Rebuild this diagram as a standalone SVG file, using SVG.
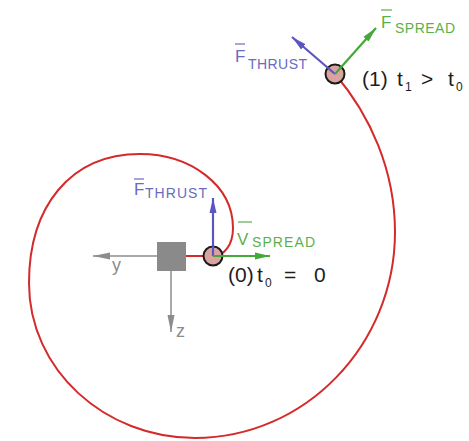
<svg xmlns="http://www.w3.org/2000/svg" width="469" height="441" viewBox="0 0 469 441">
<style>
.curve{fill:none;stroke:#d42a2a;stroke-width:2}
.node{fill:#d9a3a0;stroke:#1a1a1a;stroke-width:2}
.blue{stroke:#5a55c0;stroke-width:2.2;fill:none}
.green{stroke:#45a83a;stroke-width:2.2;fill:none}
.gray{stroke:#8c8c8c;stroke-width:1.5;fill:none}
text{font-family:"Liberation Sans",Arial,sans-serif}
.tb{fill:#6a6abf}
.tg{fill:#5cb04a}
.tgr{fill:#8c8c8c;font-size:18px}
.tk{fill:#1e1e1e;font-size:21px}
.tk.s{font-size:12px}
.big{font-size:17px}
.sub{font-size:14px}
.ob{stroke:#6a6abf;stroke-width:1.2}
.og{stroke:#5cb04a;stroke-width:1.2}
</style>
<defs>
<marker id="ab" markerUnits="userSpaceOnUse" markerWidth="16" markerHeight="8" refX="15" refY="4" orient="auto"><path d="M0,0.5 L15,4 L0,7.5 Z" fill="#5a55c0"/></marker>
<marker id="ag" markerUnits="userSpaceOnUse" markerWidth="16" markerHeight="8" refX="15" refY="4" orient="auto"><path d="M0,0.5 L15,4 L0,7.5 Z" fill="#45a83a"/></marker>
<marker id="agr" markerUnits="userSpaceOnUse" markerWidth="18" markerHeight="8" refX="17" refY="4" orient="auto"><path d="M0,0.5 L17,4 L0,7.5 Z" fill="#8c8c8c"/></marker>
</defs>
<rect width="469" height="441" fill="#ffffff"/>
<g id="axes">
<line class="gray" x1="157" y1="256" x2="93" y2="256" marker-end="url(#agr)"/>
<line class="gray" x1="171" y1="271" x2="171" y2="332" marker-end="url(#agr)"/>
<text class="tgr" x="112" y="271">y</text>
<text class="tgr" x="176" y="337">z</text>
</g>
<g id="connectors">
<path class="curve" d="M186,256 L213,256 C224,256 233,245 233,228 C233,185 190,154 140,154 C70,154 29,207 29,283 C29,370 105,438 195,438 C305,438 395,345 395,232 C395,170 370,115 335,74"/>
</g>
<g id="body">
<rect x="157" y="242" width="29" height="29" fill="#8a8a8a"/>
</g>
<g id="node0">
<circle class="node" cx="213" cy="256" r="9.5"/>
<line class="blue" x1="213" y1="256" x2="213" y2="198" marker-end="url(#ab)"/>
<line class="green" x1="213" y1="256" x2="270" y2="256" marker-end="url(#ag)"/>
<line class="ob" x1="134" y1="179" x2="144" y2="179"/>
<text class="tb big" x="134" y="195">F</text>
<text class="tb sub" x="145" y="198" textLength="62" lengthAdjust="spacing">THRUST</text>
<line class="og" x1="238" y1="222" x2="252" y2="222"/>
<text class="tg big" x="237" y="245">V</text>
<text class="tg sub" x="252" y="247" textLength="63" lengthAdjust="spacing">SPREAD</text>
<text class="tk" x="228" y="282">(0)</text>
<text class="tk" x="257" y="282">t</text>
<text class="tk s" x="265" y="287">0</text>
<text class="tk" x="284" y="282">=</text>
<text class="tk" x="314" y="282">0</text>
</g>
<g id="node1">
<circle class="node" cx="335" cy="74" r="9.5"/>
<line class="blue" x1="335" y1="74" x2="292" y2="37" marker-end="url(#ab)"/>
<line class="green" x1="335" y1="74" x2="376" y2="28" marker-end="url(#ag)"/>
<line class="ob" x1="235" y1="44" x2="245" y2="44"/>
<text class="tb big" x="235" y="62">F</text>
<text class="tb sub" x="248" y="69" textLength="59" lengthAdjust="spacing">THRUST</text>
<line class="og" x1="381" y1="10" x2="392" y2="10"/>
<text class="tg big" x="381" y="28">F</text>
<text class="tg sub" x="395" y="33" textLength="60" lengthAdjust="spacing">SPREAD</text>
<text class="tk" x="362" y="86">(1)</text>
<text class="tk" x="397" y="86">t</text>
<text class="tk s" x="405" y="91">1</text>
<text class="tk" x="421" y="86">&gt;</text>
<text class="tk" x="448" y="86">t</text>
<text class="tk s" x="456" y="91">0</text>
</g>
</svg>
